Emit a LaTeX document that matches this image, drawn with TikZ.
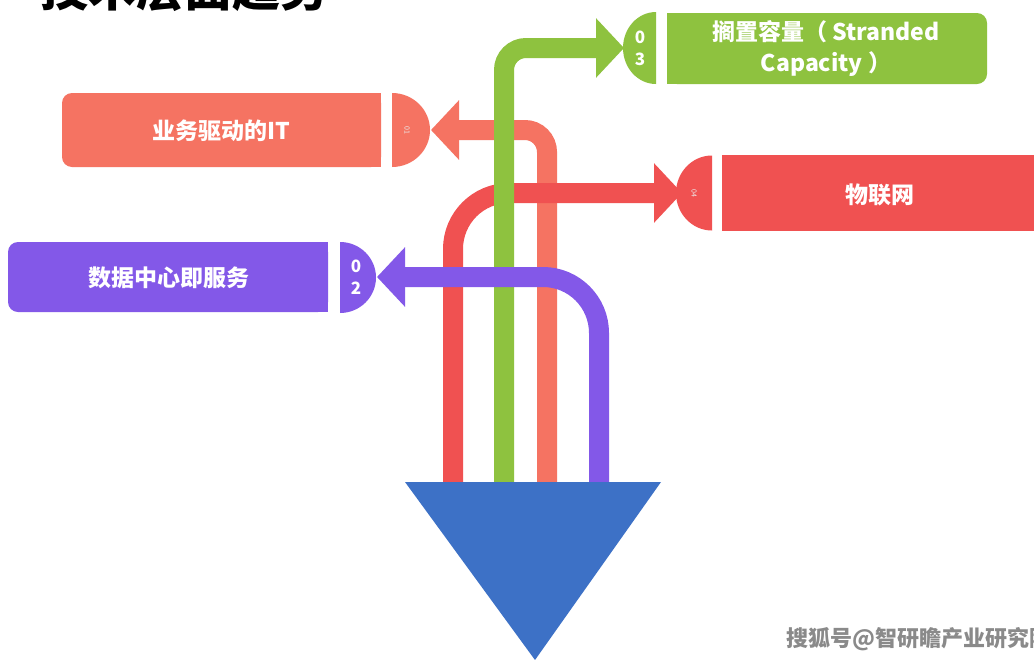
\documentclass[tikz,border=0pt]{standalone}
\usepackage{fontspec}
\newfontfamily\cjk{Noto Sans CJK SC}
\usetikzlibrary{arrows.meta}
\definecolor{cgreen}{HTML}{8EC23F}
\definecolor{csalmon}{HTML}{F57362}
\definecolor{cred}{HTML}{F05151}
\definecolor{cpurple}{HTML}{8358E8}
\definecolor{cblue}{HTML}{3D71C6}
\definecolor{cwm}{HTML}{8A8A8A}
\tikzset{
  flow/.style={line width=20pt, rounded corners=#1, -{Triangle[length=28pt 0 0, width=58pt 0 0]}},
  boxtext/.style={text=white, font=\cjk\bfseries\fontsize{23}{31}\selectfont, align=center, inner sep=0pt},
  numtext/.style={text=white, font=\cjk\bfseries\fontsize{17}{22}\selectfont, align=center, inner sep=0pt},
  smallnum/.style={text=white!85!gray, font=\cjk\fontsize{7}{7}\selectfont, inner sep=0pt, rotate=-90}
}
\begin{document}
\begin{tikzpicture}[x=1pt,y=-1pt]
\useasboundingbox (0,0) rectangle (1034,659);
\fill[white] (0,0) rectangle (1034,659);

% title (cut at top, as in the reference)
\node[anchor=base west, inner sep=0pt, font=\cjk\bfseries\fontsize{48}{48}\selectfont] (title) at (40,6) {技术层面趋势};

% start points on the triangle top and arrow tips
\coordinate (sS) at (547,484);
\coordinate (sR) at (453,484);
\coordinate (sG) at (504,484);
\coordinate (sP) at (599,484);
\coordinate (tS) at (431,130);
\coordinate (tR) at (682,193);
\coordinate (tG) at (624,48);
\coordinate (tP) at (377,277);

% flows
\draw[csalmon, flow=22pt] (sS) |- (tS);
\draw[cred, flow=56pt] (sR) |- (tR);
\draw[cgreen, flow=22pt] (sG) |- (tG);
\draw[cpurple, flow=56pt] (sP) |- (tP);

% triangle
\fill[cblue] (405,482) -- (661,482) -- (535,660) -- cycle;

% badges
\begin{scope}\clip (600,0) rectangle (656,100);
\fill[cgreen] (656,48) ellipse [x radius=33, y radius=36];\end{scope}
\begin{scope}\clip (392,80) rectangle (450,180);
\fill[csalmon] (392,130) ellipse [x radius=38, y radius=37];\end{scope}
\begin{scope}\clip (660,150) rectangle (712,240);
\fill[cred] (712,193) ellipse [x radius=36, y radius=37.5];\end{scope}
\begin{scope}\clip (340,230) rectangle (400,320);
\fill[cpurple] (340,277.5) ellipse [x radius=36, y radius=35.5];\end{scope}

\node[numtext] (n3) at (640,48) {0\\3};
\node[smallnum] (n1) at (407,130) {01};
\node[smallnum] (n4) at (694,193) {04};
\node[numtext] (n2) at (356,277) {0\\2};

% boxes
\fill[cgreen, rounded corners=10pt] (667,13) rectangle (987,84);
\fill[cgreen] (667,13) rectangle (800,84);
\node[boxtext] (g) at (826,49) {搁置容量（ Stranded\\Capacity ）};

\fill[csalmon, rounded corners=10pt] (62,93) rectangle (381,167);
\fill[csalmon] (200,93) rectangle (381,167);
\node[boxtext] (s) at (221,131) {业务驱动的IT};

\fill[cred] (722,155) rectangle (1040,231);
\node[boxtext] (r) at (880,195) {物联网};

\fill[cpurple, rounded corners=10pt] (8,242) rectangle (328,312);
\fill[cpurple] (150,242) rectangle (328,312);
\node[boxtext] (p) at (169,278) {数据中心即服务};

% watermark
\node[anchor=west, inner sep=0pt, text=cwm, font=\cjk\bfseries\fontsize{22}{22}\selectfont] (wm) at (786,639) {搜狐号@智研瞻产业研究院};
\end{tikzpicture}
\end{document}
